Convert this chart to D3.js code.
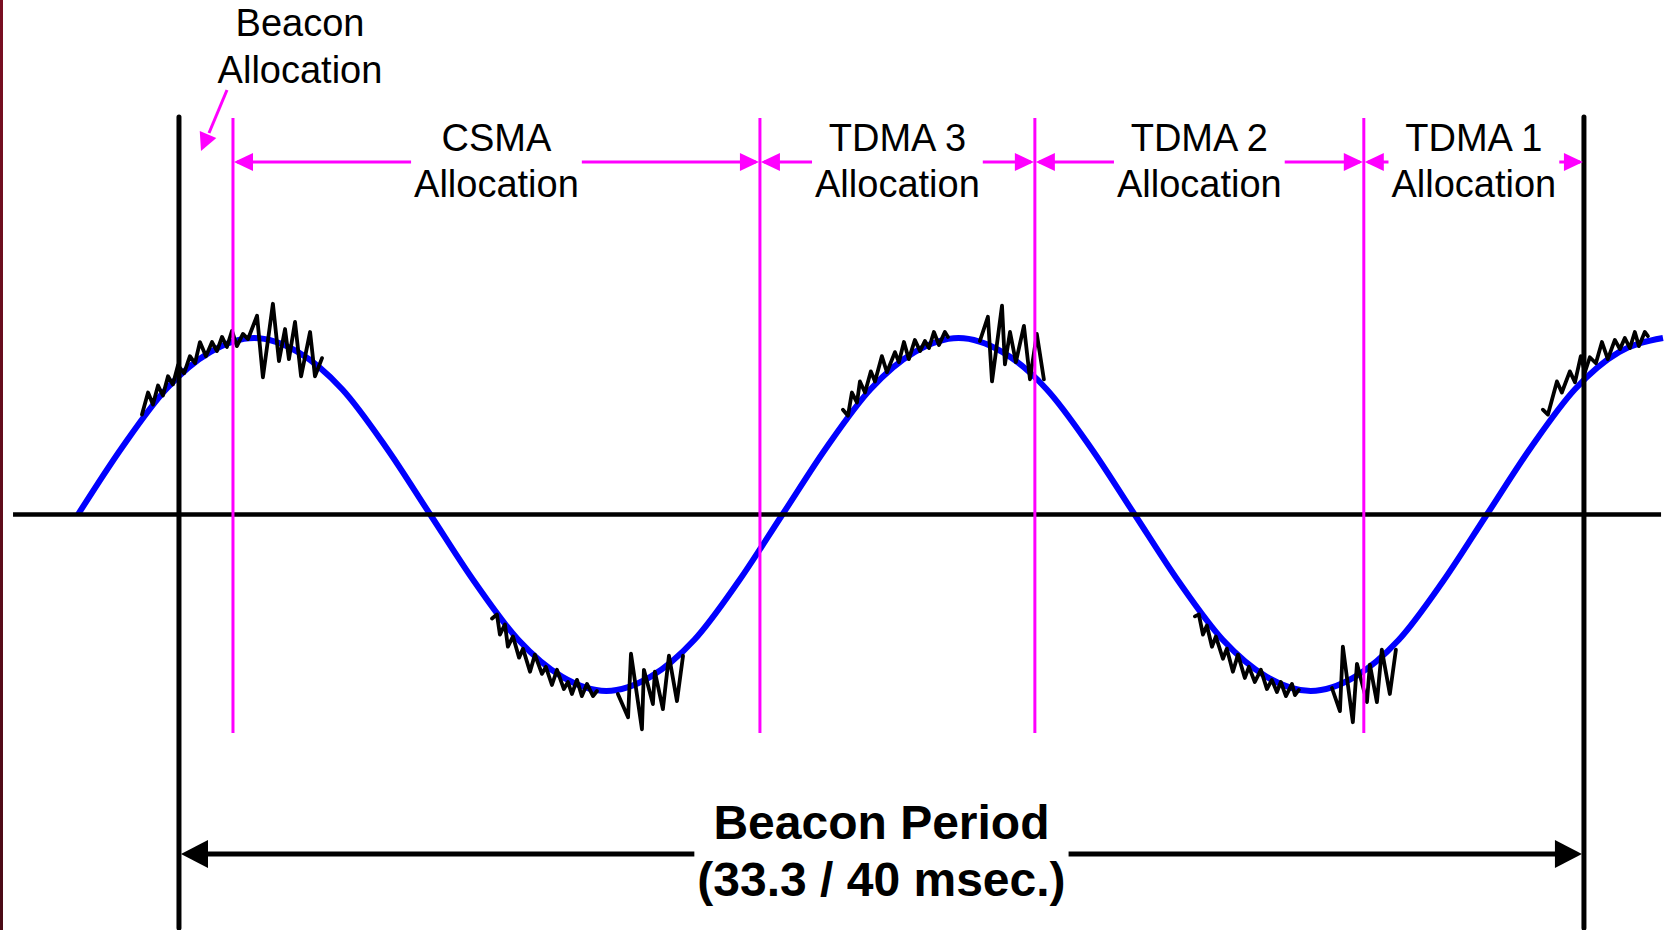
<!DOCTYPE html>
<html>
<head>
<meta charset="utf-8">
<script src="https://cdn.jsdelivr.net/npm/d3@7"></script>
<style>
  html, body { margin: 0; padding: 0; background: #fff; }
  svg { display: block; }
  text { font-family: "Liberation Sans", Arial, sans-serif; }
</style>
</head>
<body>
<div id="chart"></div>
<script>
// wave samples every 22.5 degrees of phase (0 .. 810)
var wavePhaseStep = 22.5;
var waveValues = [0, 0.38, 0.71, 0.92, 1, 0.92, 0.71, 0.38, 0, -0.38, -0.71, -0.92, -1, -0.92, -0.71, -0.38,
  0, 0.38, 0.71, 0.92, 1, 0.92, 0.71, 0.38, 0, -0.38, -0.71, -0.92, -1, -0.92, -0.71, -0.38,
  0, 0.38, 0.71, 0.92, 1];

// noise bursts riding on the wave: [phase, value]
var noisePeak1 = [[32.7,0.566],[35.8,0.691],[38.3,0.623],[40.9,0.731],[43.4,0.674],[46.0,0.783],[48.5,0.737],
  [51.1,0.846],[54.2,0.800],[57.2,0.897],[59.8,0.857],[62.3,0.977],[65.4,0.897],[68.5,0.977],[71.0,0.926],
  [73.6,1.006],[76.1,0.949],[78.7,1.040],[81.2,0.954],[84.3,1.023],[86.9,0.994],[91.5,1.126],[94.5,0.777],
  [99.6,1.194],[102.7,0.869],[105.8,1.051],[107.8,0.880],[110.9,1.091],[114.0,0.783],[118.6,1.034],
  [121.1,0.783],[124.7,0.886]];
var noiseTrough1 = [[211.6,-0.589],[214.1,-0.566],[215.6,-0.680],[218.2,-0.623],[219.7,-0.749],[222.3,-0.691],
  [225.4,-0.811],[227.4,-0.760],[231.0,-0.891],[233.5,-0.794],[237.1,-0.903],[239.1,-0.863],[242.2,-0.966],
  [244.8,-0.880],[248.3,-0.989],[250.4,-0.949],[252.4,-1.017],[255.0,-0.937],[257.5,-1.029],[260.1,-0.960],
  [263.2,-1.029],[265.2,-1.000]];
var noiseTrough1Burst = [[275.9,-1.017],[281.1,-1.149],[282.6,-0.789],[288.2,-1.217],[289.2,-0.880],
  [293.8,-1.074],[294.8,-0.891],[298.9,-1.103],[302.0,-0.800],[306.1,-1.057],[309.2,-0.800]];
var noisePeak2 = [[390.9,0.594],[393.5,0.560],[395.5,0.691],[398.1,0.634],[399.6,0.754],[402.2,0.691],
  [405.2,0.811],[407.3,0.754],[410.8,0.897],[413.4,0.806],[417.5,0.920],[419.5,0.863],[422.1,0.977],
  [424.6,0.880],[427.7,0.989],[430.3,0.926],[432.8,0.983],[434.9,0.943],[437.4,1.034],[440.0,0.960],
  [443.0,1.034],[444.6,1.006]];
var noisePeak2Burst = [[460.9,0.983],[465.0,1.120],[467.1,0.754],[472.2,1.183],[473.7,0.851],[476.3,1.034],
  [479.3,0.863],[483.4,1.069],[486.5,0.766],[490.0,1.023],[493.6,0.766]];
var noiseTrough2 = [[570.8,-0.577],[572.8,-0.566],[574.9,-0.680],[576.9,-0.629],[579.5,-0.749],[581.5,-0.691],
  [585.1,-0.817],[587.1,-0.760],[590.2,-0.891],[592.8,-0.794],[596.3,-0.926],[598.4,-0.863],[601.4,-0.949],
  [604.5,-0.880],[607.6,-0.989],[610.1,-0.937],[612.7,-1.006],[614.7,-0.949],[617.3,-1.029],[620.4,-0.960],
  [621.9,-1.023],[623.9,-0.994]];
var noiseTrough2Burst = [[640.8,-0.983],[644.9,-1.114],[646.4,-0.749],[651.5,-1.177],[653.6,-0.846],
  [658.7,-1.063],[660.2,-0.851],[663.8,-1.063],[666.3,-0.766],[670.4,-1.017],[673.5,-0.766]];
var noisePeak3 = [[748.6,0.594],[751.2,0.566],[755.8,0.754],[758.3,0.691],[762.4,0.811],[765.0,0.749],
  [768.0,0.897],[770.1,0.806],[772.6,0.891],[775.7,0.857],[778.8,0.977],[781.8,0.880],[785.4,0.989],
  [788.0,0.937],[790.5,1.000],[793.1,0.943],[795.6,1.034],[797.7,0.954],[800.7,1.034],[802.3,1.011]];

// beacon period and its allocations (phase)
var beaconStart = 51.6;
var slotNames = ["CSMA", "TDMA 3", "TDMA 2", "TDMA 1"];
var slotBounds = [79.2, 348.5, 489.0, 657.1, 769.6];
var beaconLabel = ["Beacon", "Allocation"];
var periodLabel = ["Beacon Period", "(33.3 / 40 msec.)"];
var axisExtent = [-33.2, 809];

var svgWidth = 1670, svgHeight = 930;
var magenta = "#ff00ff", blue = "#0000ff";

var svg = d3.select("#chart").append("svg")
  .attr("width", svgWidth)
  .attr("height", svgHeight);

// dark strip on the left edge
var grad = svg.append("defs").append("linearGradient")
  .attr("id", "edge").attr("x1", 0).attr("y1", 0).attr("x2", 0).attr("y2", 1);
grad.append("stop").attr("offset", "0%").attr("stop-color", "#7a0f22");
grad.append("stop").attr("offset", "100%").attr("stop-color", "#4a0a16");
svg.append("rect").attr("x", 0).attr("y", 0).attr("width", 3).attr("height", svgHeight)
  .attr("fill", "url(#edge)");

var x = d3.scaleLinear().domain([0, 810]).range([78, 1663]);
var y = d3.scaleLinear().domain([-1, 1]).range([691, 338]);

function arrowHead(g, tx, ty, dx, dy, len, half, color) {
  var n = Math.sqrt(dx * dx + dy * dy);
  dx /= n; dy /= n;
  var bx = tx - dx * len, by = ty - dy * len;
  g.append("path")
    .attr("d", "M" + tx + "," + ty + "L" + (bx - dy * half) + "," + (by + dx * half) +
      "L" + (bx + dy * half) + "," + (by - dx * half) + "Z")
    .attr("fill", color);
}

// sine wave
var line = d3.line()
  .x(function (d, i) { return x(i * wavePhaseStep); })
  .y(function (d) { return y(d); })
  .curve(d3.curveMonotoneX);
svg.append("path")
  .datum(waveValues)
  .attr("d", line)
  .attr("fill", "none")
  .attr("stroke", blue)
  .attr("stroke-width", 6);

// noise
var noiseLine = d3.line()
  .x(function (d) { return x(d[0]); })
  .y(function (d) { return y(d[1]); });
svg.append("g").selectAll("path")
  .data([noisePeak1, noiseTrough1, noiseTrough1Burst, noisePeak2, noisePeak2Burst,
    noiseTrough2, noiseTrough2Burst, noisePeak3])
  .enter()
  .append("path")
  .attr("d", noiseLine)
  .attr("fill", "none")
  .attr("stroke", "#000")
  .attr("stroke-width", 3.8)
  .attr("stroke-linejoin", "round")
  .attr("stroke-linecap", "round");

// horizontal axis
svg.append("line")
  .attr("x1", x(axisExtent[0])).attr("x2", x(axisExtent[1]))
  .attr("y1", y(0)).attr("y2", y(0))
  .attr("stroke", "#000").attr("stroke-width", 4.5);

// magenta slot boundaries
svg.append("g").selectAll("line")
  .data(slotBounds.slice(0, 4))
  .enter()
  .append("line")
  .attr("x1", d => x(d)).attr("x2", d => x(d))
  .attr("y1", 118).attr("y2", 733)
  .attr("stroke", magenta).attr("stroke-width", 3);

// black beacon period boundaries
svg.append("g").selectAll("line")
  .data([beaconStart, slotBounds[4]])
  .enter()
  .append("line")
  .attr("x1", d => x(d)).attr("x2", d => x(d))
  .attr("y1", 117).attr("y2", 928)
  .attr("stroke", "#000").attr("stroke-width", 5)
  .attr("stroke-linecap", "round");

// slot labels and arrows
var slots = svg.append("g");
slotNames.forEach(function (name, i) {
  var x0 = x(slotBounds[i]), x1 = x(slotBounds[i + 1]);
  var cx = (x0 + x1) / 2;
  var t1 = slots.append("text").attr("x", cx).attr("y", 151)
    .attr("text-anchor", "middle").attr("font-size", 38).text(name);
  var t2 = slots.append("text").attr("x", cx).attr("y", 197)
    .attr("text-anchor", "middle").attr("font-size", 38).text("Allocation");
  var gap = Math.max(t1.node().getComputedTextLength(), t2.node().getComputedTextLength()) / 2 + 3;
  var ay = 162;
  slots.append("line").attr("x1", x0 + 4).attr("x2", cx - gap).attr("y1", ay).attr("y2", ay)
    .attr("stroke", magenta).attr("stroke-width", 3);
  slots.append("line").attr("x1", cx + gap).attr("x2", x1 - 4).attr("y1", ay).attr("y2", ay)
    .attr("stroke", magenta).attr("stroke-width", 3);
  arrowHead(slots, x0 + 1, ay, -1, 0, 19, 9, magenta);
  arrowHead(slots, x1 - 1, ay, 1, 0, 19, 9, magenta);
});

// beacon allocation label
svg.append("g").selectAll("text")
  .data(beaconLabel)
  .enter()
  .append("text")
  .attr("x", 300)
  .attr("y", (d, i) => 36 + i * 47)
  .attr("text-anchor", "middle")
  .attr("font-size", 38)
  .text(d => d);
var ba = svg.append("g");
ba.append("line").attr("x1", 227).attr("y1", 90).attr("x2", 209).attr("y2", 133)
  .attr("stroke", magenta).attr("stroke-width", 3);
arrowHead(ba, 201, 151, -26, 61, 18, 9, magenta);

// beacon period arrow
var px0 = x(beaconStart), px1 = x(slotBounds[4]);
var pcx = (px0 + px1) / 2;
var period = svg.append("g");
var pt = period.selectAll("text")
  .data(periodLabel)
  .enter()
  .append("text")
  .attr("x", pcx)
  .attr("y", (d, i) => 839 + i * 57)
  .attr("text-anchor", "middle")
  .attr("font-size", 48)
  .attr("font-weight", "bold")
  .text(d => d);
var pgap = d3.max(pt.nodes(), n => n.getComputedTextLength()) / 2 + 3;
var py = 854;
period.append("line").attr("x1", px0 + 10).attr("x2", pcx - pgap).attr("y1", py).attr("y2", py)
  .attr("stroke", "#000").attr("stroke-width", 5);
period.append("line").attr("x1", pcx + pgap).attr("x2", px1 - 10).attr("y1", py).attr("y2", py)
  .attr("stroke", "#000").attr("stroke-width", 5);
arrowHead(period, px0 + 2, py, -1, 0, 27, 14, "#000");
arrowHead(period, px1 - 2, py, 1, 0, 27, 14, "#000");
</script>
</body>
</html>
